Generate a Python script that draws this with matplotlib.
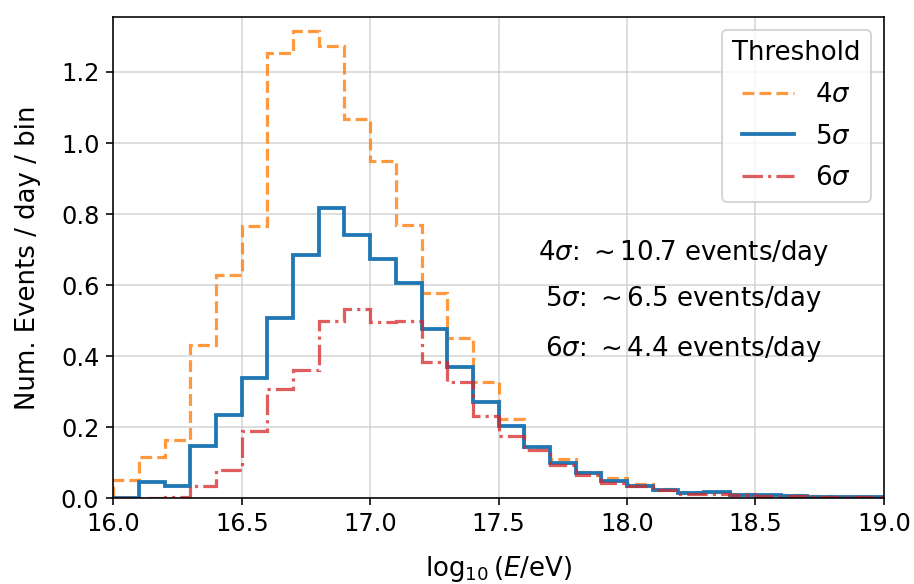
import numpy as np
import matplotlib
matplotlib.use("Agg")
import matplotlib.pyplot as plt

bin_edges = np.round(np.arange(16.0, 19.0001, 0.1), 2)

rate_4sigma = [0.052, 0.115, 0.164, 0.432, 0.629, 0.767, 1.253, 1.316, 1.272, 1.068,
               0.948, 0.770, 0.577, 0.452, 0.327, 0.223, 0.145, 0.110, 0.075, 0.056,
               0.040, 0.027, 0.018, 0.018, 0.011, 0.010, 0.008, 0.005, 0.004, 0.003]
rate_5sigma = [0.0, 0.045, 0.035, 0.146, 0.233, 0.338, 0.507, 0.685, 0.817, 0.742,
               0.674, 0.606, 0.476, 0.369, 0.270, 0.202, 0.143, 0.100, 0.070, 0.047,
               0.035, 0.023, 0.014, 0.016, 0.009, 0.008, 0.006, 0.004, 0.003, 0.002]
rate_6sigma = [0.0, 0.0, 0.002, 0.035, 0.078, 0.188, 0.308, 0.360, 0.498, 0.532,
               0.495, 0.500, 0.382, 0.328, 0.232, 0.176, 0.136, 0.092, 0.066, 0.042,
               0.033, 0.022, 0.013, 0.012, 0.008, 0.007, 0.005, 0.004, 0.003, 0.002]

labels = [r"4$\sigma$", r"5$\sigma$", r"6$\sigma$"]
daily_totals = ["10.7", "6.5", "4.4"]

DPI = 144
plt.rcParams['font.size'] = 12

fig = plt.figure(figsize=(914 / DPI, 584 / DPI), dpi=DPI)
ax = fig.add_axes([0.124, 0.147, 0.843, 0.824])

ax.stairs(rate_4sigma, bin_edges, color='#ff7f0e', alpha=0.8, lw=1.6,
          linestyle='--', label=labels[0])
ax.stairs(rate_5sigma, bin_edges, color='#1f77b4', lw=1.9,
          linestyle='-', label=labels[1])
ax.stairs(rate_6sigma, bin_edges, color='#d62728', alpha=0.75, lw=1.6,
          linestyle='-.', label=labels[2])

ax.set_xlim(16.0, 19.0)
ax.set_ylim(0, 1.355)
ax.set_xticks([16.0, 16.5, 17.0, 17.5, 18.0, 18.5, 19.0])
ax.set_yticks([0.0, 0.2, 0.4, 0.6, 0.8, 1.0, 1.2])
ax.tick_params(labelsize=12)
ax.grid(True, color='#cccccc', lw=0.8, alpha=0.8)
ax.set_axisbelow(True)

ax.set_xlabel(r"$\log_{10}(E/\mathrm{eV})$", fontsize=13, labelpad=9)
ax.set_ylabel("Num. Events / day / bin", fontsize=13, labelpad=10)

leg = ax.legend(title="Threshold", loc='upper right', fontsize=13,
                title_fontsize=13, labelspacing=0.6)

ypos = [0.69, 0.56, 0.42]
for lab, tot, y in zip(labels, daily_totals, ypos):
    ax.text(18.22, y, lab + r": $\sim$" + tot + " events/day",
            ha='center', va='center', fontsize=13)

fig.savefig("out.png", dpi=DPI)
